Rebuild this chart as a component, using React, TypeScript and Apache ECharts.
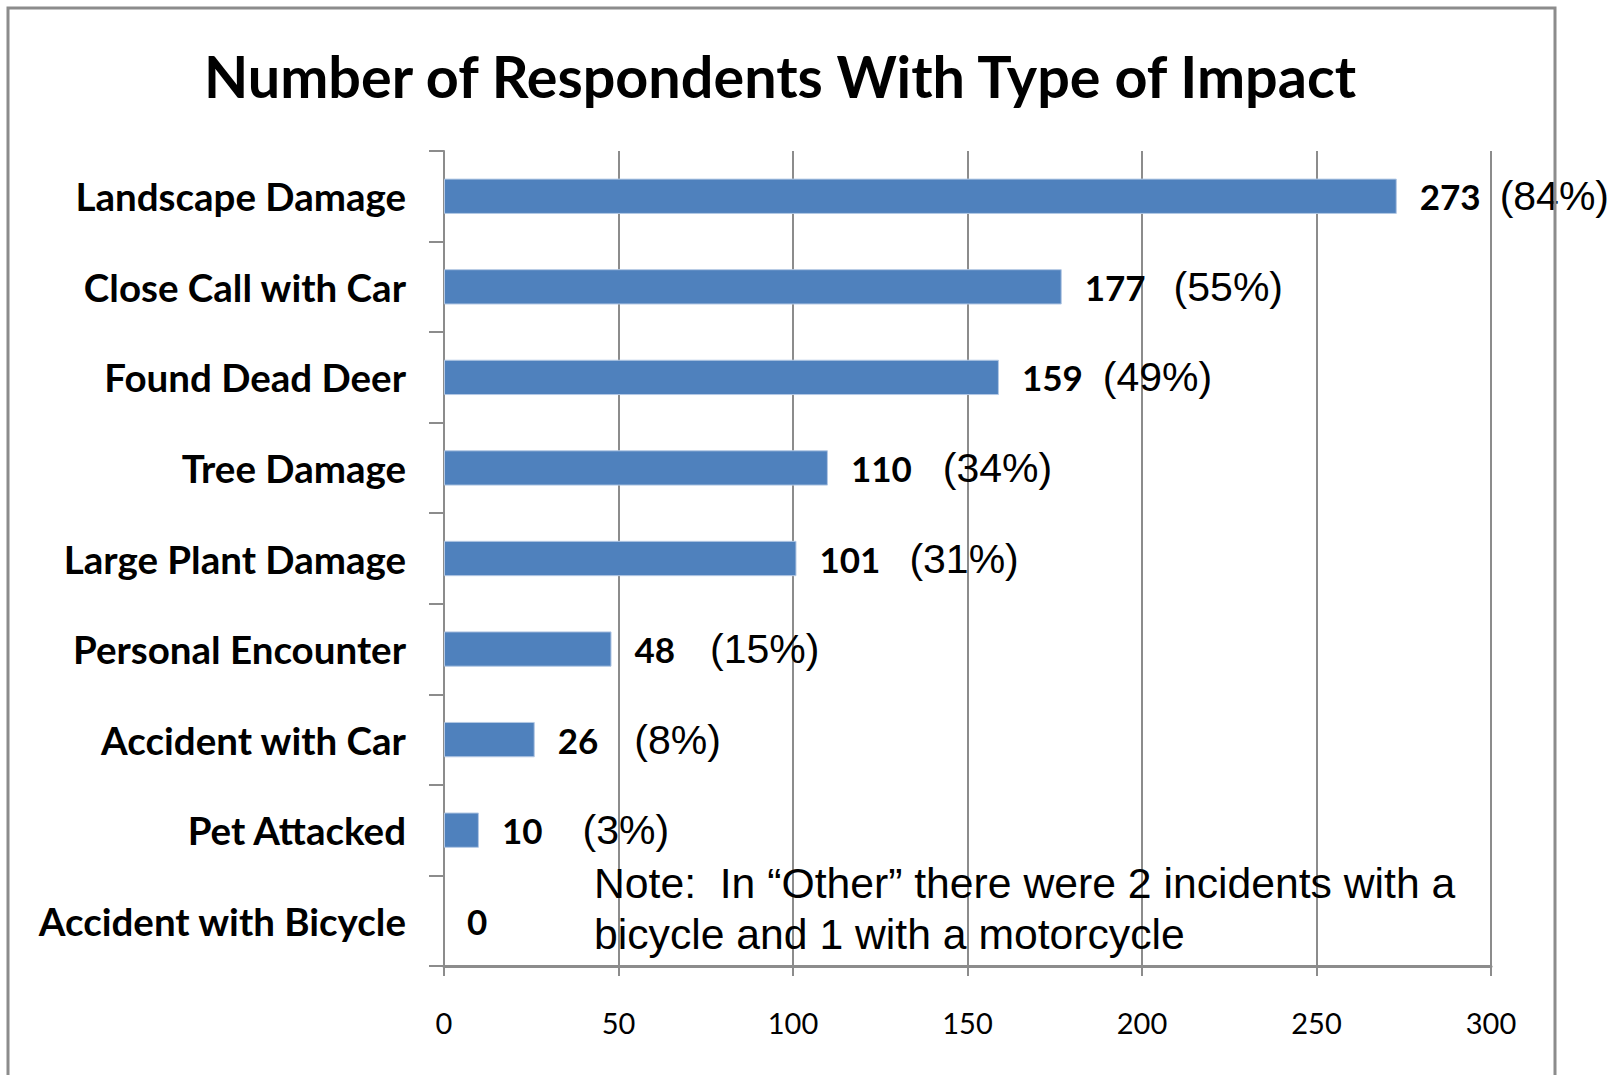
import React, { useEffect, useRef } from "react";
import * as echarts from "echarts";

const titleText = "Number of Respondents With Type of Impact";
const categories = [
  "Landscape Damage",
  "Close Call with Car",
  "Found Dead Deer",
  "Tree Damage",
  "Large Plant Damage",
  "Personal Encounter",
  "Accident with Car",
  "Pet Attacked",
  "Accident with Bicycle",
];
const counts = [273, 177, 159, 110, 101, 48, 26, 10, 0];
const percentLabels = ["(84%)", "(55%)", "(49%)", "(34%)", "(31%)", "(15%)", "(8%)", "(3%)", ""];
// horizontal gap (px) between the count and its percentage, as placed in the original
const percentGaps = [19, 28, 20, 31, 29, 35, 36, 40, 0];
const xMin = 0;
const xMax = 300;
const xInterval = 50;
const noteLines = [
  "Note:  In \u201cOther\u201d there were 2 incidents with a",
  "bicycle and 1 with a motorcycle",
];

const GRAY = "#8c8c8c";
const numStyle = {
  fontFamily: "Lato",
  fontWeight: "bold",
  fontSize: 35,
  color: "#000",
  lineHeight: 44,
  verticalAlign: "middle",
};
const pctStyle = {
  fontFamily: "Liberation Sans",
  fontWeight: "normal",
  fontSize: 41,
  color: "#000",
  lineHeight: 44,
  verticalAlign: "middle",
};

export default function App() {
  const ref = useRef<HTMLDivElement>(null);

  useEffect(() => {
    if (!ref.current) return;
    const chart = echarts.init(ref.current, null, { renderer: "svg" });

    const data = counts.map((v, i) => ({
      value: v,
      itemStyle: v === 0 ? { borderWidth: 0 } : undefined,
      label: {
        formatter: percentLabels[i] ? `{n|${v}}{p|${percentLabels[i]}}` : `{n|${v}}`,
        rich: {
          n: { ...numStyle },
          p: { ...pctStyle, padding: [0, 0, 0, percentGaps[i]] },
        },
      },
    }));

    chart.setOption({
      animation: false,
      backgroundColor: "#fff",
      title: {
        text: titleText,
        left: 780,
        top: 41,
        padding: 0,
        textAlign: "center",
        textStyle: {
          fontFamily: "Lato",
          fontWeight: "bold",
          fontSize: 57.5,
          lineHeight: 68,
          color: "#000",
        },
      },
      grid: { left: 444, top: 151, right: 121, bottom: 109, containLabel: false },
      xAxis: {
        type: "value",
        min: xMin,
        max: xMax,
        interval: xInterval,
        axisLine: { show: true, lineStyle: { color: GRAY, width: 3 } },
        axisTick: { show: true, length: 10, lineStyle: { color: GRAY, width: 2 } },
        splitLine: { show: true, lineStyle: { color: GRAY, width: 2 } },
        axisLabel: {
          fontFamily: "Lato",
          fontSize: 29,
          color: "#000",
          margin: 42,
        },
      },
      yAxis: {
        type: "category",
        data: categories,
        inverse: true,
        axisLine: { show: true, lineStyle: { color: GRAY, width: 2 } },
        axisTick: { show: true, length: 15, lineStyle: { color: GRAY, width: 2 } },
        axisLabel: {
          fontFamily: "Lato",
          fontWeight: "bold",
          fontSize: 38.5,
          color: "#000",
          margin: 38,
        },
      },
      series: [
        {
          type: "bar",
          data,
          barWidth: "39%",
          itemStyle: { color: "#4F81BD", borderColor: "#b3c8e4", borderWidth: 1 },
          label: { show: true, position: "right", distance: 23 },
          z: 3,
        },
      ],
      graphic: [
        {
          type: "rect",
          silent: true,
          shape: { x: 8, y: 8, width: 1547, height: 1120 },
          style: { fill: "none", stroke: GRAY, lineWidth: 3 },
          z: 100,
        },
        {
          type: "text",
          x: 594,
          y: 857,
          style: {
            text: noteLines.join("\n"),
            fontFamily: "Liberation Sans",
            fontSize: 42.7,
            lineHeight: 51,
            fill: "#000",
            textVerticalAlign: "top",
          },
          z: 100,
        },
      ],
    });

    return () => chart.dispose();
  }, []);

  return (
    <div
      ref={ref}
      style={{ position: "absolute", left: 0, top: 0, width: 1612, height: 1075 }}
    />
  );
}
